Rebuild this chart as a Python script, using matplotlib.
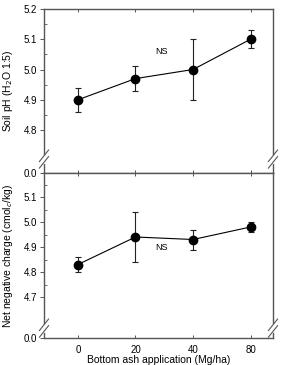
import numpy as np
import matplotlib.pyplot as plt
from matplotlib.ticker import FixedLocator

plt.rcParams['font.family'] = ['Liberation Sans', 'DejaVu Sans']

# data
rates = ['0', '20', '40', '80']
ph = [4.90, 4.97, 5.00, 5.10]
ph_err = [0.04, 0.04, 0.10, 0.03]
charge = [4.83, 4.94, 4.93, 4.98]
charge_err = [0.03, 0.10, 0.04, 0.02]

ph_ticks = [4.8, 4.9, 5.0, 5.1, 5.2]
charge_ticks = [4.7, 4.8, 4.9, 5.0, 5.1]

x = np.arange(len(rates))
axcol = '#555555'

fig = plt.figure(figsize=(2.81, 3.65), dpi=100)
L, R = 44/281, 273/281
ax1 = fig.add_axes([L, 1-173/365, R-L, 164/365])
ax2 = fig.add_axes([L, 1-338/365, R-L, 165/365])

def panel(ax, y, e, ticks, lo, hi, brk):
    ax.errorbar(x, y, yerr=e, fmt='o-', color='black', ms=6, lw=0.8,
                elinewidth=0.8, capsize=2.5, capthick=0.8, ecolor='#222222')
    ax.set_xlim(-0.59, 3.39)
    ax.set_ylim(lo, hi)
    ax.yaxis.set_major_locator(FixedLocator([lo] + ticks))
    ax.set_yticklabels(['0.0'] + ['%.1f' % t for t in ticks])
    ax.yaxis.set_minor_locator(FixedLocator([t + 0.05 for t in ticks]))
    ax.set_xticks(x)
    ax.set_xticklabels(rates)
    for s in ax.spines.values():
        s.set_color(axcol)
        s.set_linewidth(1.0)
    ax.tick_params(axis='y', which='major', direction='out', length=3,
                   width=0.7, color=axcol, labelsize=7, pad=2)
    ax.tick_params(axis='y', which='minor', direction='in', length=2,
                   width=0.6, color=axcol)
    ax.tick_params(axis='x', direction='in', length=2.5, width=0.7,
                   color=axcol, labelsize=7, top=True, pad=5)
    # axis break marks on both sides
    for xs in (0, 1):
        ax.plot([xs, xs], [brk - 0.02, brk + 0.02], transform=ax.transAxes,
                color='white', lw=2, clip_on=False, zorder=5)
        for dy in (-0.02, 0.02):
            ax.plot([xs - 0.02, xs + 0.02], [brk + dy - 0.035, brk + dy + 0.035],
                    transform=ax.transAxes, color=axcol, lw=0.8,
                    clip_on=False, zorder=6)

panel(ax1, ph, ph_err, ph_ticks, 4.658, 5.2, 0.085)
panel(ax2, charge, charge_err, charge_ticks, 4.536, 5.196, 0.06)

ax1.tick_params(axis='x', labelbottom=False)
ax1.text(1.45, 5.06, 'NS', fontsize=6.5, ha='center', va='center')
ax2.text(1.45, 4.90, 'NS', fontsize=6.5, ha='center', va='center')

ax1.set_ylabel('Soil pH (H$_2$O 1:5)', fontsize=7.5)
ax2.set_ylabel('Net negative charge (cmol$_c$/kg)', fontsize=7.5)
ax1.yaxis.set_label_coords(-0.125, 0.5)
ax2.yaxis.set_label_coords(-0.125, 0.5)
ax2.set_xlabel('Bottom ash application (Mg/ha)', fontsize=7.5)
ax2.xaxis.set_label_coords(0.5, -0.105)

fig.savefig('out.png', dpi=100)
